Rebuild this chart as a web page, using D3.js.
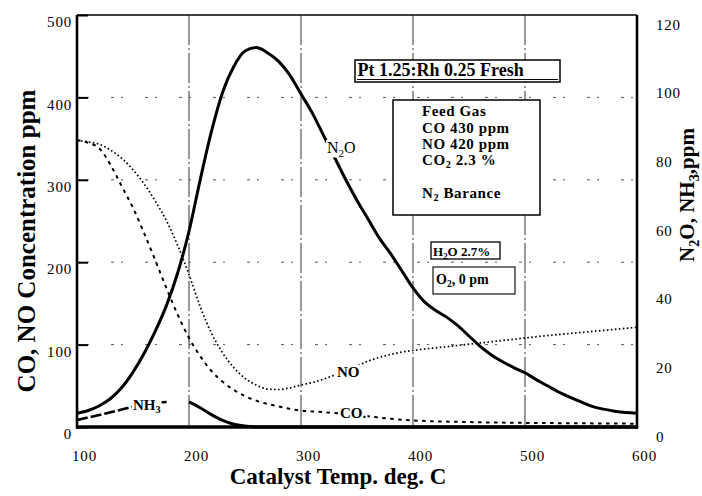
<!DOCTYPE html>
<html><head><meta charset="utf-8">
<script src="https://cdn.jsdelivr.net/npm/d3@7"></script>
<style>body{margin:0;background:#fff}svg{display:block}</style>
</head><body>
<svg id="c" width="702" height="496"></svg>
<script>
// ---- data ----
const xTicks = [100,200,300,400,500,600];
const yLeftTicks = [0,100,200,300,400,500];
const yRightTicks = [0,20,40,60,80,100,120];
const xGrid = [200,300,400,500];
const yGrid = [100,200,300,400];

const tN2O = [100,110,120,130,140,150,160,170,180,190,200,210,220,230,240,250,260,270,280,290,300,310,320,330,340,350,360,370,380,390,400,410,420,430,440,450,460,470,480,490,500,510,520,530,540,550,560,570,580,590,600];
const n2o  = [4,4.8,6.2,8.3,11.5,16,21.5,28,35.5,45,57,72,86,97.5,105,109.5,110.5,109,106.5,102.5,97,91.5,85,78.5,72,66,60.5,55,50.5,45.5,40.5,36.5,34,32,29.5,26.5,23.5,21,19,17.3,15.8,13.8,12,10.2,8.7,7.3,6,5.2,4.6,4.2,4];

const tNO = [100,110,120,130,140,150,160,170,180,190,200,210,220,230,240,250,260,270,280,290,300,310,320,330,340,350,360,370,380,390,400,420,440,460,480,500,520,540,560,580,600];
const no  = [348,346,343,336,326,312,295,274,250,220,185,146,114,90,72,59,51,46,45.5,47.5,51,54,58,63,68,74,80,84.5,88,91,93,96,99,102,105,108,111,113.5,116,118.5,121];

const tCO = [100,110,120,130,140,150,160,170,180,190,200,210,220,230,240,250,260,270,280,290,300,320,340,360,380,400,450,500,550,600];
const co  = [348,345,338,318,292,266,235,202,168,136,108,86,68,55,45,37.5,32,28,25,22,20,18,16,13,10,8,6,5,4.5,4];

const tNH3 = [100,110,120,130,140,150,160,170,180,190,200,210,220,230,240,250,260,300,350,400,450,500,550,600];
const nh3  = [2,2.8,3.5,4.3,5.1,5.9,6.5,7,7.3,7.4,7.3,5.6,3.6,1.9,0.8,0.3,0,0,0,0,0,0,0,0];

const titleText = "Pt 1.25:Rh 0.25 Fresh";
const feedGasLines = [[["Feed Gas"]],[["CO 430 ppm"]],[["NO 420 ppm"]],[["CO"],["2",1],[" 2.3 %"]],[[""]],[["N"],["2",1],[" Barance"]]];
const h2oText = [["H"],["2",1],["O 2.7%"]];
const o2Text = [["O"],["2",1],[", 0 pm"]];
const xTitle = "Catalyst Temp. deg. C";
const yLeftTitle = "CO, NO Concentration ppm";
const yRightTitle = [["N"],["2",1],["O, NH"],["3",1],[",ppm"]];

// ---- chart ----
const FONT = "'Liberation Serif','Times New Roman',serif";
const svg = d3.select("#c").style("font-family", FONT);
const x = d3.scaleLinear().domain([100,600]).range([77,637]);
const yL = d3.scaleLinear().domain([0,500]).range([427,15]);
const yR = d3.scaleLinear().domain([0,120]).range([427,15]);
const zip = (a,b) => a.map((t,i) => [t,b[i]]);

function richText(g, px, py, parts, size, weight) {
  const t = g.append("text").attr("x", px).attr("y", py)
    .attr("font-size", size).attr("font-weight", weight || "bold").attr("fill", "#000");
  let shift = 0;
  parts.forEach(p => {
    const sp = t.append("tspan").text(p[0]);
    if (p[1]) { sp.attr("font-size", size*0.68).attr("dy", size*0.22 - shift); shift = size*0.22; }
    else { sp.attr("dy", -shift); shift = 0; }
  });
  return t;
}
function whiteBg(t, pad) {
  const b = t.node().getBBox();
  t.node().parentNode.insertBefore(
    d3.create("svg:rect").attr("x", b.x-pad).attr("y", b.y+1).attr("width", b.width+2*pad)
      .attr("height", b.height-2).attr("fill", "#fff").node(), t.node());
}

// gridlines
const grid = svg.append("g");
grid.selectAll("line.v").data(xGrid).join("line").attr("class","v")
  .attr("x1", d=>x(d)).attr("x2", d=>x(d)).attr("y1", yL(500)).attr("y2", yL(0))
  .attr("stroke","#333").attr("stroke-width",1).attr("stroke-dasharray","30,3,2,3");
grid.selectAll("line.h").data(yGrid).join("line").attr("class","h")
  .attr("x1", x(100)).attr("x2", x(600)).attr("y1", d=>yL(d)).attr("y2", d=>yL(d))
  .attr("stroke","#555").attr("stroke-width",1).attr("stroke-dasharray","3,7,2,22");

// curves
const lineL = d3.line().x(d=>x(d[0])).y(d=>yL(d[1])).curve(d3.curveMonotoneX);
const lineR = d3.line().x(d=>x(d[0])).y(d=>yR(d[1])).curve(d3.curveMonotoneX);
const curves = svg.append("g").attr("fill","none").attr("stroke","#000");
curves.append("path").attr("d", lineL(zip(tNO,no))).attr("stroke-width",1.7).attr("stroke-dasharray","1.6,2.4");
curves.append("path").attr("d", lineL(zip(tCO,co))).attr("stroke-width",2).attr("stroke-dasharray","3.5,4.5");
const nhAll = zip(tNH3,nh3);
curves.append("path").attr("d", lineR(nhAll.filter(d=>d[0]<=180))).attr("stroke-width",2.6).attr("stroke-dasharray","11,3");
curves.append("path").attr("d", lineR(nhAll.filter(d=>d[0]>=200))).attr("stroke-width",3);
curves.append("path").attr("d", lineR(zip(tN2O,n2o))).attr("stroke-width",3).attr("stroke-linejoin","round");

// frame
const frame = svg.append("g").attr("stroke","#000");
frame.append("line").attr("x1",x(100)).attr("x2",x(600)).attr("y1",yL(500)).attr("y2",yL(500)).attr("stroke-width",1.6);
frame.append("line").attr("x1",x(100)).attr("x2",x(100)).attr("y1",yL(500)).attr("y2",yL(0)+1.5).attr("stroke-width",2.6);
frame.append("line").attr("x1",x(600)).attr("x2",x(600)).attr("y1",yL(500)).attr("y2",yL(0)+1.5).attr("stroke-width",2.6);
frame.append("line").attr("x1",x(100)-1).attr("x2",x(600)+1).attr("y1",yL(0)).attr("y2",yL(0)).attr("stroke-width",3.5);

// axes
const axL = svg.append("g").attr("transform",`translate(${x(100)},0)`)
  .call(d3.axisLeft(yL).tickValues(yLeftTicks).tickSizeInner(-11).tickSizeOuter(0).tickPadding(5));
const axR = svg.append("g").attr("transform",`translate(${x(600)},0)`)
  .call(d3.axisRight(yR).tickValues(yRightTicks).tickSize(0).tickPadding(19));
const axB = svg.append("g").attr("transform",`translate(0,${yL(0)})`)
  .call(d3.axisBottom(x).tickValues(xTicks).tickSize(0).tickPadding(23));
[axL,axR,axB].forEach(a => {
  a.select(".domain").remove();
  a.selectAll("text").attr("font-family",FONT).attr("font-size",15).attr("fill","#000").attr("letter-spacing",0.8);
});
axL.selectAll(".tick line").attr("stroke","#000").attr("stroke-width",2);
axL.selectAll(".tick text").attr("dy","0.78em");
axR.selectAll(".tick text").attr("dy","0.95em");
axB.selectAll(".tick text").attr("dx",7);

// axis titles
svg.append("text").attr("x",338).attr("y",484).attr("text-anchor","middle")
  .attr("font-size",23).attr("font-weight","bold").text(xTitle);
svg.append("text").attr("transform","translate(35,241) rotate(-90)").attr("text-anchor","middle")
  .attr("font-size",25).attr("font-weight","bold").text(yLeftTitle);
const rt = richText(svg.append("g").attr("transform","translate(694,195) rotate(-90)"), 0, 0, yRightTitle, 21, "bold");
rt.attr("text-anchor","middle");

// curve labels
const lab = svg.append("g");
whiteBg(richText(lab, 327, 153, [["N"],["2",1],["O"]], 16, "normal"), 1);
whiteBg(richText(lab, 337, 377, [["NO"]], 15, "bold"), 1);
whiteBg(richText(lab, 340, 418, [["CO."]], 15, "bold"), 1);
whiteBg(richText(lab, 133, 410, [["NH"],["3",1]], 15, "bold"), 1);

// title box
const tb = svg.append("g");
tb.append("rect").attr("x",355).attr("y",60).attr("width",205).attr("height",22).attr("fill","#fff").attr("stroke","#000").attr("stroke-width",1.5);
tb.append("line").attr("x1",357).attr("x2",558).attr("y1",79.5).attr("y2",79.5).attr("stroke","#000").attr("stroke-width",1);
tb.append("text").attr("x",357.5).attr("y",76).attr("font-size",18).attr("font-weight","bold").text(titleText);

// feed gas box
const fb = svg.append("g");
fb.append("rect").attr("x",393).attr("y",100).attr("width",147).attr("height",115).attr("fill","#fff").attr("stroke","#000").attr("stroke-width",1.5);
const feedY = [116,133,149,165,181,198];
feedGasLines.forEach((parts,i) => richText(fb, 422, feedY[i], parts, 15, "bold").attr("letter-spacing",0.6));

// H2O and O2 boxes
const hb = svg.append("g");
hb.append("rect").attr("x",431).attr("y",242).attr("width",69).attr("height",17).attr("fill","#fff").attr("stroke","#000").attr("stroke-width",1.3);
richText(hb, 433, 256, h2oText, 13, "bold");
hb.append("rect").attr("x",433).attr("y",267).attr("width",82).attr("height",27).attr("fill","#fff").attr("stroke","#000").attr("stroke-width",1.1);
richText(hb, 436, 284, o2Text, 14, "bold");
</script>
</body></html>
